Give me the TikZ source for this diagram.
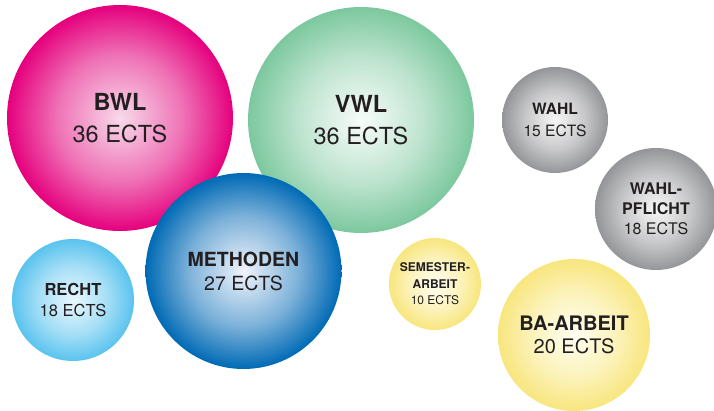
\documentclass[tikz,border=0pt]{standalone}
\usepackage{fontspec}
\setmainfont{TeX Gyre Heros}
\definecolor{txt}{HTML}{231F20}
\definecolor{pinkO}{HTML}{E5007D}\definecolor{pinkI}{HTML}{F8DAEA}
\definecolor{greenO}{HTML}{7CC89E}\definecolor{greenI}{HTML}{F8FCFA}
\definecolor{blueO}{HTML}{006AB5}\definecolor{blueI}{HTML}{F0F4FB}
\definecolor{lblueO}{HTML}{5AC3EE}\definecolor{lblueI}{HTML}{EAF8FE}
\definecolor{grayO}{HTML}{949598}\definecolor{grayI}{HTML}{F7F7F7}
\definecolor{yelO}{HTML}{F8E67E}\definecolor{yelI}{HTML}{FFFEF2}
\colorlet{ballI}{white}\colorlet{ballM}{gray}\colorlet{ballO}{black}
\pgfdeclareradialshading[ballI,ballM,ballO]{ballshade}{\pgfpoint{0bp}{0bp}}{%
  color(0bp)=(ballI); color(14bp)=(ballM); color(25bp)=(ballO); color(50bp)=(ballO)}
\tikzset{
  ball/.style 2 args={circle, inner sep=0pt, draw=none, text=txt, align=center,
    /utils/exec={\colorlet{ballI}{#1}\colorlet{ballO}{#2}\colorlet{ballM}{#2!48!#1}},
    shading=ballshade},
}
\begin{document}
\begin{tikzpicture}[x=1pt,y=-1pt]
\useasboundingbox (0,0) rectangle (714,411);
\node[ball={pinkI}{pinkO}, minimum size=226pt, font=\fontsize{23.5}{32}\selectfont] (bwl) at (120,118) {\textbf{BWL}\\36 ECTS};
\node[ball={greenI}{greenO}, minimum size=226pt, font=\fontsize{23.5}{32}\selectfont] (vwl) at (361,120) {\textbf{VWL}\\36 ECTS};
\node[ball={blueI}{blueO}, minimum size=196pt, font=\fontsize{19.5}{24}\selectfont] (meth) at (243.5,271) {\textbf{METHODEN}\\27 ECTS};
\node[ball={lblueI}{lblueO}, minimum size=122pt, font=\fontsize{16.5}{20.5}\selectfont] (recht) at (73,300) {\textbf{RECHT}\\18 ECTS};
\node[ball={yelI}{yelO}, minimum size=92pt, font=\fontsize{12}{16.5}\selectfont] (sem) at (435,284) {\textbf{SEMESTER-}\\\textbf{ARBEIT}\\10 ECTS};
\node[ball={grayI}{grayO}, minimum size=106pt, font=\fontsize{15.6}{21.5}\selectfont] (wahl) at (555,120) {\textbf{WAHL}\\15 ECTS};
\node[ball={grayI}{grayO}, minimum size=122pt, font=\fontsize{16}{20}\selectfont] (wpf) at (656,209) {\textbf{WAHL-}\\\textbf{PFLICHT}\\18 ECTS};
\node[ball={yelI}{yelO}, minimum size=152pt, font=\fontsize{20}{22.5}\selectfont] (ba) at (574,335) {\textbf{BA-ARBEIT}\\20 ECTS};
\end{tikzpicture}
\end{document}
